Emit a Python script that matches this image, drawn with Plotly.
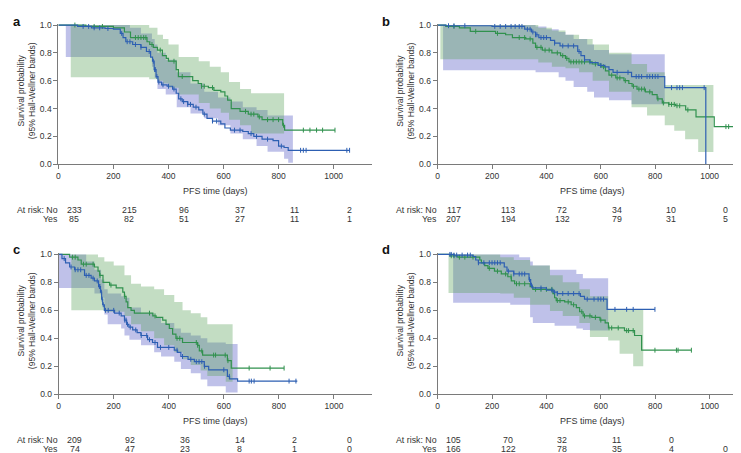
import plotly.graph_objects as go
from bisect import bisect_right

# ---------------- DATA ----------------
DAY_TICKS = [0, 200, 400, 600, 800, 1000]
SURV_TICKS = [0.0, 0.2, 0.4, 0.6, 0.8, 1.0]
GROUPS = ["No", "Yes"]
PANEL_LABELS = ["a", "b", "c", "d"]

# ---- panel a ----
a_no_t = [0, 70, 120, 170, 200, 225, 235, 245, 270, 300, 320, 335, 342, 348, 355, 362, 375, 395, 415, 428,
          437, 450, 470, 490, 510, 525, 540, 560, 590, 605, 625, 670, 690, 710, 740, 780, 800, 820, 835]
a_no_s = [1.0, 0.99, 0.98, 0.975, 0.97, 0.94, 0.91, 0.88, 0.86, 0.84, 0.81, 0.77, 0.74, 0.68, 0.63, 0.59, 0.57,
          0.56, 0.54, 0.51, 0.47, 0.45, 0.43, 0.41, 0.39, 0.36, 0.33, 0.31, 0.29, 0.26, 0.245, 0.235, 0.22, 0.20,
          0.18, 0.17, 0.13, 0.12, 0.10]
a_no_end = 1058
a_no_cens = [90, 110, 130, 150, 180, 230, 250, 260, 280, 300, 330, 345, 350, 352, 358, 365, 380, 400, 420, 445,
             455, 470, 480, 500, 530, 560, 575, 640, 660, 700, 720, 760, 810, 880, 890, 900, 1048, 1058]
a_no_bt = [27, 210, 260, 300, 340, 350, 360, 390, 430, 480, 530, 580, 625, 670, 720, 760, 820, 835, 852]
a_no_lo = [0.77, 0.77, 0.77, 0.77, 0.70, 0.62, 0.54, 0.50, 0.41, 0.365, 0.33, 0.28, 0.22, 0.18, 0.13, 0.09,
           0.04, 0.01, 0.01]
a_no_hi = [1.0, 1.0, 0.98, 0.94, 0.90, 0.86, 0.80, 0.75, 0.66, 0.58, 0.52, 0.48, 0.45, 0.41, 0.39, 0.35, 0.35,
           0.35, 0.35]

a_yes_t = [0, 100, 200, 240, 262, 322, 332, 345, 360, 378, 392, 400, 428, 436, 488, 508, 520, 545, 565, 590, 605,
           615, 628, 660, 690, 725, 740, 815, 822]
a_yes_s = [1.0, 0.99, 0.98, 0.95, 0.91, 0.88, 0.86, 0.84, 0.82, 0.78, 0.76, 0.74, 0.68, 0.63, 0.60, 0.58, 0.56,
           0.55, 0.53, 0.52, 0.49, 0.46, 0.40, 0.38, 0.36, 0.34, 0.32, 0.28, 0.245]
a_yes_end = 1005
a_yes_cens = [60, 130, 160, 280, 290, 300, 310, 318, 340, 370, 420, 450, 520, 530, 560, 680, 700, 710, 730, 760,
              780, 800, 818, 890, 914, 938, 960, 1005]
a_yes_bt = [45, 230, 330, 360, 380, 400, 437, 510, 550, 590, 620, 660, 700, 820]
a_yes_lo = [0.625, 0.625, 0.61, 0.60, 0.58, 0.55, 0.50, 0.44, 0.40, 0.37, 0.32, 0.28, 0.22, 0.15]
a_yes_hi = [1.0, 1.0, 0.98, 0.93, 0.90, 0.86, 0.77, 0.74, 0.70, 0.66, 0.59, 0.54, 0.51, 0.50]
a_risk_no = [233, 215, 96, 37, 11, 2]
a_risk_yes = [85, 82, 51, 27, 11, 1]

# ---- panel b ----
b_no_t = [0, 30, 200, 320, 345, 360, 372, 415, 430, 450, 515, 527, 540, 560, 590, 615, 630, 645, 713, 835, 986]
b_no_s = [1.0, 0.995, 0.99, 0.97, 0.95, 0.93, 0.91, 0.89, 0.87, 0.85, 0.81, 0.78, 0.75, 0.73, 0.71, 0.70, 0.68,
          0.66, 0.63, 0.55, 0.0]
b_no_end = 986
b_no_cens = [40, 60, 100, 210, 230, 250, 270, 285, 300, 310, 330, 340, 350, 360, 365, 380, 390, 400, 430, 460,
             480, 500, 520, 540, 600, 660, 700, 730, 740, 750, 770, 780, 790, 800, 810, 860, 880, 890, 900, 980]
b_no_bt = [20, 340, 360, 400, 445, 470, 500, 550, 575, 630, 713, 835]
b_no_lo = [0.675, 0.675, 0.66, 0.66, 0.625, 0.60, 0.555, 0.52, 0.48, 0.46, 0.43, 0.43]
b_no_hi = [1.0, 1.0, 0.99, 0.97, 0.95, 0.93, 0.90, 0.86, 0.82, 0.79, 0.79, 0.79]

b_yes_t = [0, 30, 80, 120, 213, 250, 275, 324, 350, 360, 385, 420, 452, 470, 483, 568, 600, 617, 630, 655, 685,
           703, 715, 733, 764, 789, 807, 826, 850, 875, 912, 950, 1017]
b_yes_s = [1.0, 0.99, 0.98, 0.955, 0.94, 0.93, 0.91, 0.90, 0.87, 0.84, 0.82, 0.80, 0.78, 0.76, 0.735, 0.72, 0.70,
           0.67, 0.64, 0.62, 0.60, 0.58, 0.56, 0.54, 0.52, 0.50, 0.47, 0.44, 0.43, 0.42, 0.39, 0.34, 0.27]
b_yes_end = 1118
b_yes_cens = [60, 140, 220, 300, 320, 340, 365, 380, 395, 410, 440, 460, 475, 490, 500, 510, 520, 530, 540, 560,
              580, 610, 640, 660, 670, 690, 720, 740, 750, 760, 780, 810, 830, 850, 860, 870, 880, 890, 920, 1060,
              1070, 1115]
b_yes_bt = [10, 330, 370, 420, 470, 520, 570, 630, 713, 770, 835, 870, 910, 958, 1014]
b_yes_lo = [0.755, 0.755, 0.73, 0.70, 0.69, 0.66, 0.60, 0.52, 0.41, 0.35, 0.28, 0.24, 0.18, 0.087, 0.087]
b_yes_hi = [1.0, 1.0, 0.98, 0.96, 0.93, 0.90, 0.86, 0.80, 0.72, 0.66, 0.57, 0.57, 0.57, 0.57, 0.57]
b_risk_no = [117, 113, 72, 34, 10, 0]
b_risk_yes = [207, 194, 132, 79, 31, 5]

# ---- panel c ----
c_no_t = [0, 12, 25, 40, 58, 94, 118, 130, 145, 152, 156, 160, 166, 203, 227, 239, 247, 255, 269, 285, 299, 323,
          341, 359, 420, 432, 444, 470, 493, 529, 545, 613, 621, 650]
c_no_s = [1.0, 0.97, 0.94, 0.91, 0.89, 0.85, 0.83, 0.81, 0.77, 0.73, 0.68, 0.64, 0.60, 0.58, 0.56, 0.53, 0.50,
          0.48, 0.46, 0.44, 0.42, 0.39, 0.37, 0.335, 0.315, 0.30, 0.27, 0.25, 0.233, 0.20, 0.175, 0.128, 0.11, 0.094]
c_no_end = 867
c_no_cens = [20, 45, 60, 70, 80, 100, 110, 125, 140, 148, 150, 155, 158, 162, 170, 180, 200, 220, 240, 245, 250,
             260, 280, 300, 320, 330, 350, 370, 400, 430, 450, 480, 500, 510, 520, 530, 600, 620, 692, 700, 710,
             837, 862]
c_no_bt = [0, 100, 130, 154, 166, 178, 227, 239, 257, 299, 347, 372, 420, 444, 480, 516, 540, 607, 650]
c_no_lo = [0.76, 0.76, 0.72, 0.69, 0.57, 0.50, 0.47, 0.42, 0.39, 0.35, 0.30, 0.27, 0.233, 0.18, 0.15, 0.105,
           0.058, 0.012, 0.012]
c_no_hi = [1.0, 0.95, 0.89, 0.82, 0.75, 0.72, 0.70, 0.69, 0.62, 0.58, 0.55, 0.51, 0.47, 0.44, 0.42, 0.40, 0.37,
           0.36, 0.36]

c_yes_t = [0, 40, 70, 82, 130, 143, 149, 161, 185, 209, 233, 239, 245, 251, 263, 275, 342, 354, 378, 390, 402,
           414, 426, 450, 505, 511, 523, 613, 627]
c_yes_s = [1.0, 0.98, 0.96, 0.93, 0.91, 0.88, 0.85, 0.80, 0.78, 0.76, 0.73, 0.70, 0.66, 0.62, 0.60, 0.58, 0.56,
           0.55, 0.53, 0.50, 0.47, 0.43, 0.40, 0.37, 0.35, 0.31, 0.28, 0.24, 0.187]
c_yes_end = 819
c_yes_cens = [50, 60, 90, 100, 125, 150, 190, 240, 330, 350, 430, 440, 500, 505, 520, 563, 570, 605, 615, 692, 768,
              819]
c_yes_bt = [46, 143, 166, 200, 239, 263, 299, 347, 383, 420, 450, 480, 516, 540, 607, 632]
c_yes_lo = [0.60, 0.60, 0.59, 0.59, 0.56, 0.50, 0.45, 0.40, 0.35, 0.30, 0.25, 0.21, 0.17, 0.13, 0.09, 0.09]
c_yes_hi = [1.0, 0.98, 0.95, 0.92, 0.85, 0.79, 0.77, 0.75, 0.71, 0.66, 0.60, 0.58, 0.55, 0.50, 0.50, 0.50]
c_risk_no = [209, 92, 36, 14, 2, 0]
c_risk_yes = [74, 47, 23, 8, 1, 0]

# ---- panel d ----
d_no_t = [0, 60, 130, 140, 150, 245, 255, 280, 336, 342, 348, 400, 425, 440, 525, 540, 623]
d_no_s = [1.0, 0.995, 0.985, 0.96, 0.94, 0.91, 0.88, 0.86, 0.82, 0.78, 0.76, 0.745, 0.73, 0.72, 0.70, 0.68, 0.607]
d_no_end = 799
d_no_cens = [45, 50, 60, 70, 90, 110, 120, 150, 170, 190, 200, 210, 220, 230, 260, 280, 300, 310, 320, 338, 345,
             380, 420, 430, 440, 460, 480, 500, 520, 550, 575, 590, 600, 610, 652, 695, 719, 799]
d_no_bt = [57, 267, 300, 340, 350, 412, 430, 510, 534, 560, 627]
d_no_lo = [0.655, 0.64, 0.64, 0.55, 0.51, 0.51, 0.49, 0.47, 0.46, 0.455, 0.455]
d_no_hi = [1.0, 1.0, 0.98, 0.95, 0.92, 0.89, 0.89, 0.86, 0.83, 0.83, 0.83]

d_yes_t = [0, 45, 74, 155, 161, 173, 185, 209, 234, 258, 271, 283, 340, 350, 424, 430, 436, 467, 491, 510, 522,
           535, 567, 597, 616, 628, 687, 724, 750]
d_yes_s = [1.0, 0.99, 0.98, 0.96, 0.94, 0.92, 0.90, 0.88, 0.86, 0.84, 0.81, 0.79, 0.77, 0.75, 0.72, 0.69, 0.67,
           0.66, 0.64, 0.62, 0.59, 0.56, 0.55, 0.53, 0.51, 0.474, 0.455, 0.42, 0.315]
d_yes_end = 933
d_yes_cens = [50, 60, 80, 100, 130, 190, 220, 250, 270, 290, 300, 320, 360, 380, 400, 420, 440, 450, 480, 500, 530,
              540, 560, 580, 600, 630, 640, 664, 695, 702, 719, 799, 878, 884, 933]
d_yes_bt = [40, 150, 230, 280, 340, 413, 460, 521, 560, 627, 669, 719, 756]
d_yes_lo = [0.724, 0.724, 0.72, 0.69, 0.64, 0.596, 0.56, 0.51, 0.41, 0.385, 0.29, 0.20, 0.20]
d_yes_hi = [1.0, 1.0, 0.98, 0.96, 0.92, 0.85, 0.80, 0.75, 0.70, 0.61, 0.61, 0.61, 0.61]
d_risk_no = [105, 70, 32, 11, 0, None]
d_risk_yes = [166, 122, 78, 35, 4, 0]

# ---------------- STYLE / LAYOUT ----------------
W, H = 741, 453
FONT = "Liberation Sans, Arial, Helvetica, sans-serif"
BLUE = "rgb(45,95,178)"
GREEN = "rgb(48,145,78)"
BLUE_BAND = "rgba(95,100,200,0.40)"
GREEN_BAND = "rgba(90,160,90,0.36)"
AXIS_COL = "#7a7a7a"
TEXT_COL = "#333333"
XMAX = 1140

# pixel geometry of each panel: x0 (day 0), px per day, y of 1.0, y of 0.0
GEOM = {
    "a": dict(x0=48.5, k=0.276, y1=13.3, y0=155.3),
    "b": dict(x0=428.8, k=0.2727, y1=13.3, y0=155.3),
    "c": dict(x0=48.8, k=0.276, y1=247.3, y0=390.0),
    "d": dict(x0=428.8, k=0.2727, y1=247.3, y0=390.0),
}
YMAX = 1.01

PANELS = {
    "a": dict(no=(a_no_t, a_no_s, a_no_end, a_no_cens, a_no_bt, a_no_lo, a_no_hi),
              yes=(a_yes_t, a_yes_s, a_yes_end, a_yes_cens, a_yes_bt, a_yes_lo, a_yes_hi),
              risk=(a_risk_no, a_risk_yes)),
    "b": dict(no=(b_no_t, b_no_s, b_no_end, b_no_cens, b_no_bt, b_no_lo, b_no_hi),
              yes=(b_yes_t, b_yes_s, b_yes_end, b_yes_cens, b_yes_bt, b_yes_lo, b_yes_hi),
              risk=(b_risk_no, b_risk_yes)),
    "c": dict(no=(c_no_t, c_no_s, c_no_end, c_no_cens, c_no_bt, c_no_lo, c_no_hi),
              yes=(c_yes_t, c_yes_s, c_yes_end, c_yes_cens, c_yes_bt, c_yes_lo, c_yes_hi),
              risk=(c_risk_no, c_risk_yes)),
    "d": dict(no=(d_no_t, d_no_s, d_no_end, d_no_cens, d_no_bt, d_no_lo, d_no_hi),
              yes=(d_yes_t, d_yes_s, d_yes_end, d_yes_cens, d_yes_bt, d_yes_lo, d_yes_hi),
              risk=(d_risk_no, d_risk_yes)),
}


def px_x(p):
    return p / W


def px_y(p):
    return 1 - p / H


def step_at(T, S, t):
    i = bisect_right(T, t) - 1
    return S[max(i, 0)]


fig = go.Figure()
annotations = []
layout_axes = {}

for idx, key in enumerate(PANEL_LABELS):
    n = idx + 1
    xa = "x" if n == 1 else f"x{n}"
    ya = "y" if n == 1 else f"y{n}"
    g = GEOM[key]
    dom_x = [px_x(g["x0"]), px_x(g["x0"] + XMAX * g["k"])]
    unit = g["y0"] - g["y1"]
    ytop_px = g["y0"] - YMAX * unit
    dom_y = [px_y(g["y0"]), px_y(ytop_px)]

    axis_common = dict(showline=True, linecolor=AXIS_COL, linewidth=1, ticks="outside", ticklen=4,
                       tickcolor=AXIS_COL, tickwidth=1, showgrid=False, zeroline=False,
                       tickfont=dict(size=8.5, color=TEXT_COL, family=FONT), fixedrange=True)
    layout_axes["xaxis" if n == 1 else f"xaxis{n}"] = dict(
        axis_common, domain=dom_x, range=[0, XMAX], tickvals=DAY_TICKS,
        ticktext=[str(v) for v in DAY_TICKS], anchor=ya)
    layout_axes["yaxis" if n == 1 else f"yaxis{n}"] = dict(
        axis_common, domain=dom_y, range=[0, YMAX], tickvals=SURV_TICKS,
        ticktext=[f"{v:.1f}" for v in SURV_TICKS], anchor=xa)

    spec = PANELS[key]
    # bands
    for grp, col in (("no", BLUE_BAND), ("yes", GREEN_BAND)):
        T, S, end, cens, bt, lo, hi = spec[grp]
        fig.add_trace(go.Scatter(x=bt, y=lo, mode="lines", line=dict(width=0, shape="hv"),
                                 xaxis=xa, yaxis=ya, showlegend=False, hoverinfo="skip"))
        fig.add_trace(go.Scatter(x=bt, y=hi, mode="lines", line=dict(width=0, shape="hv"),
                                 fill="tonexty", fillcolor=col,
                                 xaxis=xa, yaxis=ya, showlegend=False, hoverinfo="skip"))
    # curves and censor marks
    for grp, col in (("yes", GREEN), ("no", BLUE)):
        T, S, end, cens, bt, lo, hi = spec[grp]
        fig.add_trace(go.Scatter(x=T + [end], y=S + [S[-1]], mode="lines",
                                 line=dict(color=col, width=1.2, shape="hv"),
                                 xaxis=xa, yaxis=ya, showlegend=False, name=grp))
        fig.add_trace(go.Scatter(x=cens, y=[step_at(T, S, c) for c in cens], mode="markers",
                                 marker=dict(symbol="line-ns", size=3.5, line=dict(color=col, width=1)),
                                 xaxis=xa, yaxis=ya, showlegend=False, cliponaxis=False, hoverinfo="skip"))

    # panel letter
    lx = 1 if key in ("a", "c") else 371
    ly = 0 if key in ("a", "b") else 233
    annotations.append(dict(text=f"<b>{key}</b>", xref="paper", yref="paper", x=px_x(lx), y=px_y(ly),
                            xanchor="left", yanchor="top", showarrow=False,
                            font=dict(size=13, color="#111", family=FONT)))
    # y title
    ymid = (g["y0"] + g["y1"]) / 2 - 4
    annotations.append(dict(text="Survival probability<br>(95% Hall-Wellner bands)", xref="paper", yref="paper",
                            x=px_x(g["x0"] - 32), y=px_y(ymid), xanchor="center", yanchor="middle",
                            textangle=-90, showarrow=False,
                            font=dict(size=8.5, color=TEXT_COL, family=FONT)))
    # x title
    annotations.append(dict(text="PFS time (days)", xref="paper", yref="paper",
                            x=(dom_x[0] + dom_x[1]) / 2, y=px_y(g["y0"] + 27.5), xanchor="center",
                            yanchor="middle", showarrow=False, font=dict(size=9, color=TEXT_COL, family=FONT)))
    # at-risk table
    risk_no, risk_yes = spec["risk"]
    row1 = g["y0"] + 46.5
    row2 = g["y0"] + 56
    for lab, rowy in (("At risk: No", row1), ("Yes", row2)):
        annotations.append(dict(text=lab, xref="paper", yref="paper", x=px_x(g["x0"] + 1.5), y=px_y(rowy),
                                xanchor="right", yanchor="middle", showarrow=False,
                                font=dict(size=8.8, color=TEXT_COL, family=FONT)))
    for vals, rowy in ((risk_no, row1), (risk_yes, row2)):
        for d, v in zip(DAY_TICKS, vals):
            if v is None:
                continue
            annotations.append(dict(text=str(v), xref=xa, yref="paper", x=d, y=px_y(rowy),
                                    xanchor="center", yanchor="middle", xshift=16, showarrow=False,
                                    font=dict(size=8.8, color=TEXT_COL, family=FONT)))

fig.update_layout(width=W, height=H, autosize=False, margin=dict(l=0, r=0, t=0, b=0),
                  paper_bgcolor="white", plot_bgcolor="white", annotations=annotations,
                  font=dict(family=FONT, color=TEXT_COL), **layout_axes)
fig.write_html("out.html")
